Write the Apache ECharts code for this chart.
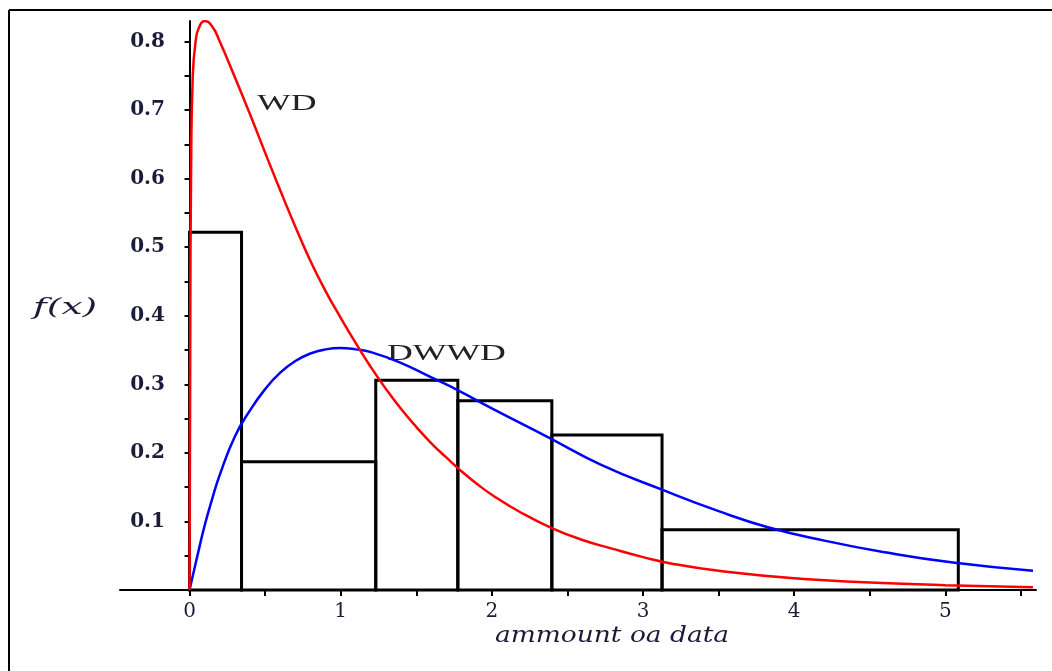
<!DOCTYPE html>
<html>
<head>
<meta charset="utf-8">
<script src="https://cdn.jsdelivr.net/npm/echarts@6/dist/echarts.min.js"></script>
<style>
  html, body { margin: 0; padding: 0; background: #fff; }
  #chart { width: 1052px; height: 671px; }
</style>
</head>
<body>
<div id="chart"></div>
<script>
// histogram bins: [left edge, right edge, density]
const binEdges = [0, 0.344, 1.232, 1.775, 2.397, 3.126, 5.086]
const binHeights = [0.522, 0.187, 0.306, 0.276, 0.226, 0.088]

// WD curve (red)
const wdPoints = [
  [0, 0], [0.005, 0.4], [0.01, 0.6], [0.02, 0.74], [0.04, 0.8], [0.07, 0.824],
  [0.1, 0.83], [0.15, 0.822], [0.2, 0.8], [0.3, 0.748], [0.4, 0.694], [0.5, 0.638],
  [0.6, 0.583], [0.7, 0.53], [0.8, 0.48], [0.9, 0.436], [1.0, 0.397], [1.1, 0.36],
  [1.2, 0.325], [1.3, 0.293], [1.4, 0.264], [1.5, 0.238], [1.6, 0.214], [1.7, 0.193],
  [1.8, 0.173], [1.9, 0.155], [2.0, 0.139], [2.2, 0.112], [2.4, 0.09], [2.6, 0.073],
  [2.8, 0.06], [3.0, 0.048], [3.2, 0.038], [3.5, 0.028], [4.0, 0.017], [4.5, 0.011],
  [5.0, 0.007], [5.58, 0.004]
]

// DWWD curve (blue)
const dwwdPoints = [
  [0, 0], [0.05, 0.048], [0.1, 0.094], [0.15, 0.133], [0.2, 0.168], [0.3, 0.224],
  [0.4, 0.262], [0.5, 0.293], [0.6, 0.317], [0.7, 0.334], [0.8, 0.345], [0.9, 0.351],
  [1.0, 0.353], [1.1, 0.351], [1.2, 0.347], [1.39, 0.332], [1.6, 0.31], [1.77, 0.292],
  [2.0, 0.265], [2.38, 0.222], [2.72, 0.183], [3.13, 0.146], [3.5, 0.115], [3.82, 0.092],
  [4.2, 0.072], [4.6, 0.055], [5.05, 0.04], [5.58, 0.028]
]

const xTicks = [0, 0.5, 1, 1.5, 2, 2.5, 3, 3.5, 4, 4.5, 5, 5.5]
const xLabels = [0, 1, 2, 3, 4, 5]
const yTicks = [0, 0.05, 0.1, 0.15, 0.2, 0.25, 0.3, 0.35, 0.4, 0.45, 0.5, 0.55, 0.6, 0.65, 0.7, 0.75, 0.8]
const yLabels = [0.1, 0.2, 0.3, 0.4, 0.5, 0.6, 0.7, 0.8]

const binData = binHeights.map((h, i) => [binEdges[i], binEdges[i + 1], h])

const chart = echarts.init(document.getElementById('chart'))

const inkColor = '#1c1c3a'

chart.setOption({
  animation: false,
  backgroundColor: '#fff',
  grid: { left: 120, top: 21, width: 916, height: 569 },
  xAxis: {
    type: 'value',
    min: -0.46,
    max: 5.6,
    splitLine: { show: false },
    axisLine: { onZero: true, lineStyle: { color: '#000', width: 2 } },
    axisTick: { customValues: xTicks, length: 6, lineStyle: { color: '#000', width: 2 } },
    axisLabel: { customValues: xLabels, margin: 12, fontFamily: 'DejaVu Serif', fontSize: 20, color: inkColor }
  },
  yAxis: {
    type: 'value',
    min: 0,
    max: 0.83,
    splitLine: { show: false },
    axisLine: { onZero: true, lineStyle: { color: '#000', width: 2 } },
    axisTick: { customValues: yTicks, length: 5, lineStyle: { color: '#000', width: 2 } },
    axisLabel: {
      customValues: yLabels,
      margin: -45,
      fontFamily: 'DejaVu Serif',
      fontWeight: 'bold',
      fontSize: 20,
      color: inkColor
    }
  },
  graphic: [
    { type: 'line', shape: { x1: 9, y1: 10, x2: 1052, y2: 10 }, style: { stroke: '#000', lineWidth: 2 } },
    { type: 'line', shape: { x1: 9, y1: 10, x2: 9, y2: 671 }, style: { stroke: '#000', lineWidth: 2 } },
    {
      type: 'text', x: 33, y: 308, scaleX: 1.7,
      style: { text: 'f(x)', font: 'italic 22px "DejaVu Serif"', fill: inkColor, verticalAlign: 'middle' }
    },
    {
      type: 'text', x: 257, y: 104, scaleX: 1.55,
      style: { text: 'WD', font: '23px "Liberation Serif"', fill: '#222', verticalAlign: 'middle' }
    },
    {
      type: 'text', x: 387, y: 354, scaleX: 1.55,
      style: { text: 'DWWD', font: '23px "Liberation Serif"', fill: '#222', verticalAlign: 'middle' }
    },
    {
      type: 'text', x: 612, y: 636, scaleX: 1.15,
      style: { text: 'ammount oa data', font: 'italic 23px "DejaVu Serif"', fill: inkColor, align: 'center', verticalAlign: 'middle' }
    }
  ],
  series: [
    {
      type: 'custom',
      name: 'histogram',
      data: binData,
      z: 1,
      renderItem: (params, api) => {
        const p0 = api.coord([api.value(0), api.value(2)])
        const p1 = api.coord([api.value(1), 0])
        return {
          type: 'rect',
          shape: { x: p0[0], y: p0[1], width: p1[0] - p0[0], height: p1[1] - p0[1] },
          style: { fill: 'none', stroke: '#000', lineWidth: 3 }
        }
      }
    },
    {
      type: 'line',
      name: 'DWWD',
      data: dwwdPoints,
      z: 3,
      showSymbol: false,
      smooth: 0.5,
      lineStyle: { color: '#0000ff', width: 2.5 }
    },
    {
      type: 'line',
      name: 'WD',
      data: wdPoints,
      z: 4,
      showSymbol: false,
      smooth: 0.5,
      lineStyle: { color: '#ff0000', width: 2.5 }
    }
  ]
})
</script>
</body>
</html>
